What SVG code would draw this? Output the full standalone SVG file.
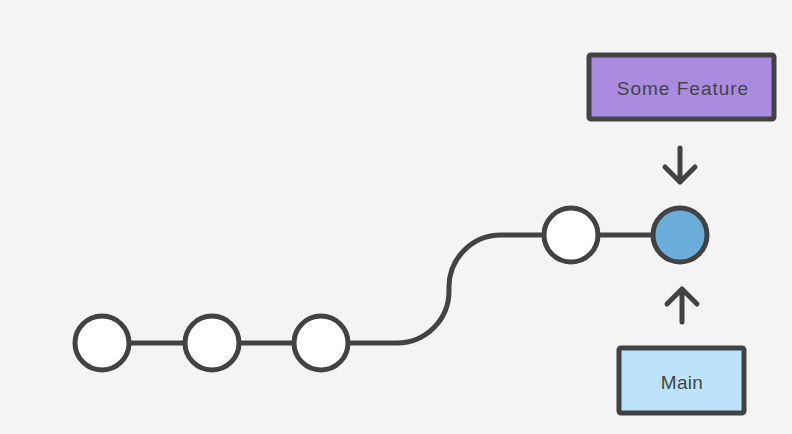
<svg xmlns="http://www.w3.org/2000/svg" width="792" height="434" viewBox="0 0 792 434">
<style>
.ln{fill:none;stroke:#424242;stroke-width:5;stroke-linecap:round;stroke-linejoin:round}
.commit{stroke:#424242;stroke-width:5;fill:#ffffff}
.box{stroke:#424242;stroke-width:5}
.lbl{font-family:"Liberation Sans",Arial,sans-serif;font-size:19px;fill:#444444;text-anchor:middle}
</style>
<rect width="792" height="434" fill="#f4f4f4"/>
<g id="connectors">
<path class="ln" d="M 130 343 H 185"/>
<path class="ln" d="M 239 343 H 294"/>
<path class="ln" d="M 348 343 H 397 A 52 52 0 0 0 449 291 V 287 A 52 52 0 0 1 501 235 H 544"/>
<path class="ln" d="M 598 235 H 653"/>
<path class="ln" d="M 680 148 V 182 M 665 167 L 680 182 L 695 167"/>
<path class="ln" d="M 682 322 V 289 M 667 304 L 682 289 L 697 304"/>
</g>
<g id="c1"><circle class="commit" cx="102" cy="343" r="27"/></g>
<g id="c2"><circle class="commit" cx="212" cy="343" r="27"/></g>
<g id="c3"><circle class="commit" cx="321" cy="343" r="27"/></g>
<g id="c4"><circle class="commit" cx="571" cy="235" r="27"/></g>
<g id="c5"><circle class="commit" cx="680" cy="235" r="27" style="fill:#6aadda"/></g>
<g id="some-feature">
<rect class="box" x="589" y="55" width="185" height="64" rx="2" fill="#a98be0"/>
<text class="lbl" x="683" y="95" letter-spacing="1">Some Feature</text>
</g>
<g id="main">
<rect class="box" x="619" y="348" width="125" height="65" rx="2" fill="#bde3fb"/>
<text class="lbl" x="682" y="389" letter-spacing="0.3">Main</text>
</g>
</svg>
